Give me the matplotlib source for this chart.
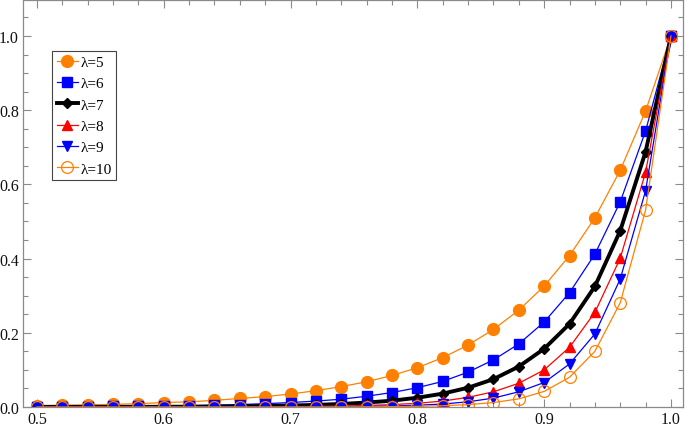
import matplotlib
matplotlib.use("Agg")
import matplotlib.pyplot as plt
from matplotlib.ticker import MultipleLocator, FormatStrFormatter

plt.rcParams["font.family"] = ["Liberation Serif", "DejaVu Serif"]

# x grid (step 0.02)
x = [0.50, 0.52, 0.54, 0.56, 0.58, 0.60, 0.62, 0.64, 0.66, 0.68,
     0.70, 0.72, 0.74, 0.76, 0.78, 0.80, 0.82, 0.84, 0.86, 0.88,
     0.90, 0.92, 0.94, 0.96, 0.98, 1.00]

lam5 = [0.004, 0.005, 0.006, 0.007, 0.009, 0.012, 0.014, 0.018, 0.023, 0.028,
        0.035, 0.044, 0.055, 0.068, 0.085, 0.106, 0.133, 0.167, 0.209, 0.261,
        0.326, 0.408, 0.510, 0.638, 0.798, 1.000]
lam6 = [0.0006, 0.0008, 0.0011, 0.0015, 0.002, 0.0027, 0.0036, 0.0049, 0.0066, 0.009,
        0.012, 0.016, 0.021, 0.029, 0.039, 0.052, 0.069, 0.094, 0.127, 0.170,
        0.229, 0.308, 0.412, 0.553, 0.744, 1.0]
lam7 = [0.0001, 0.00014, 0.0002, 0.0003, 0.0004, 0.0006, 0.0009, 0.0013, 0.0019, 0.0027,
        0.0039, 0.0057, 0.0082, 0.012, 0.017, 0.025, 0.036, 0.052, 0.075, 0.109,
        0.157, 0.224, 0.325, 0.475, 0.688, 1.0]
lam8 = [0.00001, 0.00002, 0.00003, 0.00004, 0.00007, 0.0001, 0.0002, 0.0003, 0.0004, 0.0007,
        0.001, 0.0016, 0.0026, 0.0041, 0.0065, 0.010, 0.016, 0.026, 0.041, 0.064,
        0.100, 0.161, 0.255, 0.401, 0.633, 1.0]
lam9 = [0.00001, 0.00001, 0.00001, 0.00001, 0.00001, 0.00002, 0.00004, 0.00006, 0.0001, 0.0002,
        0.0003, 0.0005, 0.0009, 0.0016, 0.0027, 0.0047, 0.008, 0.014, 0.024, 0.041,
        0.066, 0.116, 0.197, 0.345, 0.583, 1.0]
lam10 = [0.0, 0.0, 0.0, 0.0, 0.0, 0.0, 0.0, 0.00001, 0.00002, 0.00004,
         0.00008, 0.00015, 0.0003, 0.0005, 0.001, 0.0018, 0.0034, 0.0064, 0.012, 0.022,
         0.042, 0.080, 0.150, 0.281, 0.531, 1.0]

labels = ["λ=5", "λ=6", "λ=7", "λ=8", "λ=9", "λ=10"]

ORANGE = "#FF8000"
BLUE = "#0000FF"
RED = "#FF0000"

fig = plt.figure(figsize=(6.85, 4.27), dpi=100)
ax = fig.add_axes([23 / 685, 19 / 427, 660 / 685, 407 / 427])

ax.plot(x, lam5, color=ORANGE, lw=0.9, marker="o", ms=8.5, label=labels[0])
ax.plot(x, lam6, color=BLUE, lw=0.9, marker="s", ms=7.5, label=labels[1])
ax.plot(x, lam7, color="black", lw=2.8, marker="D", ms=5, label=labels[2])
ax.plot(x, lam8, color=RED, lw=0.9, marker="^", ms=7.5, label=labels[3])
ax.plot(x, lam9, color=BLUE, lw=0.9, marker="v", ms=7.5, label=labels[4])
ax.plot(x, lam10, color=ORANGE, lw=0.9, marker="o", ms=8.5, mfc="none",
        mec=ORANGE, mew=0.9, label=labels[5])

ax.set_xlim(0.489, 1.0095)
ax.set_ylim(0, 1.097)

ax.xaxis.set_major_locator(MultipleLocator(0.1))
ax.xaxis.set_minor_locator(MultipleLocator(0.02))
ax.yaxis.set_major_locator(MultipleLocator(0.2))
ax.yaxis.set_minor_locator(MultipleLocator(0.05))
ax.xaxis.set_major_formatter(FormatStrFormatter("%.1f"))
ax.yaxis.set_major_formatter(FormatStrFormatter("%.1f"))

gray = "#8a8a8a"
for s in ax.spines.values():
    s.set_color(gray)
    s.set_linewidth(0.9)
ax.tick_params(which="both", direction="in", top=True, right=True,
               color=gray, width=0.8, labelsize=11.5, labelcolor="#111111")
ax.tick_params(which="major", length=5.5, pad=3)
ax.tick_params(which="minor", length=3.5)

leg = ax.legend(loc="upper left", bbox_to_anchor=(0.044, 0.875),
                borderaxespad=0, fontsize=11, handlelength=1.4,
                handletextpad=0.15, labelspacing=0.5, borderpad=0.3,
                fancybox=False, framealpha=1, edgecolor="#444444")
leg.get_frame().set_linewidth(0.8)

fig.savefig("out.png", dpi=100)
